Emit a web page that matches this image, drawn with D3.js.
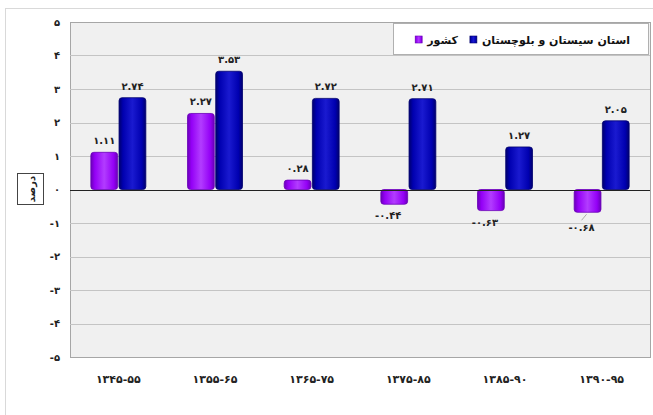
<!DOCTYPE html>
<html>
<head>
<meta charset="utf-8">
<script src="https://cdn.jsdelivr.net/npm/d3@7"></script>
<style>
  html, body { margin: 0; padding: 0; background: #fff; }
  svg { display: block; font-family: "DejaVu Sans", sans-serif; }
</style>
</head>
<body>
<div id="chart"></div>
<script>
const categories = ["۱۳۴۵-۵۵", "۱۳۵۵-۶۵", "۱۳۶۵-۷۵", "۱۳۷۵-۸۵", "۱۳۸۵-۹۰", "۱۳۹۰-۹۵"];
const countryValues = [1.11, 2.27, 0.28, -0.44, -0.63, -0.68];
const provinceValues = [2.74, 3.53, 2.72, 2.71, 1.27, 2.05];
const seriesNames = ["کشور", "استان سیستان و بلوچستان"];
const yTicks = [-5, -4, -3, -2, -1, 0, 1, 2, 3, 4, 5];
const yTitle = "درصد";

const width = 653, height = 415;
const plot = {left: 70, right: 650, top: 22, bottom: 357};

const faDigits = "۰۱۲۳۴۵۶۷۸۹";
const toFa = (s) => String(s).replace(/[0-9]/g, (d) => faDigits[+d]);
const fmtValue = (v) => (v < 0 ? "-" : "") + toFa(Math.abs(v).toFixed(2));

const series = [
  {name: seriesNames[0], values: countryValues, light: "#b23cff", mid: "#9400f6", dark: "#6a00b8"},
  {name: seriesNames[1], values: provinceValues, light: "#1a1ad0", mid: "#0000b0", dark: "#00006e"}
];

const svg = d3.select("#chart").append("svg")
  .attr("width", width)
  .attr("height", height)
  .attr("direction", "ltr");

// horizontal shading on the bars
const defs = svg.append("defs");
series.forEach((s, i) => {
  const grad = defs.append("linearGradient")
    .attr("id", `grad${i}`)
    .attr("x1", "0").attr("x2", "1").attr("y1", "0").attr("y2", "0");
  grad.append("stop").attr("offset", "0%").attr("stop-color", s.dark);
  grad.append("stop").attr("offset", "15%").attr("stop-color", s.mid);
  grad.append("stop").attr("offset", "50%").attr("stop-color", s.light);
  grad.append("stop").attr("offset", "85%").attr("stop-color", s.mid);
  grad.append("stop").attr("offset", "100%").attr("stop-color", s.dark);
});

// outer frame
svg.append("rect")
  .attr("x", 5.5).attr("y", 8.5)
  .attr("width", width).attr("height", height)
  .attr("fill", "#fff")
  .attr("stroke", "#d9d9d9");

const x = d3.scaleBand().domain(categories).range([plot.left, plot.right]);
const groupW = 55;
const xSub = d3.scaleBand()
  .domain(d3.range(series.length))
  .range([x.bandwidth() / 2 - groupW / 2, x.bandwidth() / 2 + groupW / 2])
  .paddingInner(0.05);
const y = d3.scaleLinear().domain([-5, 5]).range([plot.bottom, plot.top]);

// plot area
svg.append("rect")
  .attr("x", plot.left + 0.5).attr("y", plot.top + 0.5)
  .attr("width", plot.right - plot.left).attr("height", plot.bottom - plot.top)
  .attr("fill", "#f0f0f0")
  .attr("stroke", "#a6a6a6");

svg.append("g")
  .selectAll("line")
  .data(yTicks.filter((t) => t !== 0 && Math.abs(t) !== 5))
  .join("line")
  .attr("x1", plot.left).attr("x2", plot.right)
  .attr("y1", (d) => Math.round(y(d)) + 0.5).attr("y2", (d) => Math.round(y(d)) + 0.5)
  .attr("stroke", "#c4c4c4");

// y axis labels
const yAxis = svg.append("g")
  .attr("transform", `translate(${plot.left - 10},0)`)
  .call(d3.axisLeft(y).tickValues(yTicks).tickSize(0).tickPadding(0)
    .tickFormat((d) => (d < 0 ? "-" + toFa(-d) : toFa(d))));
yAxis.select(".domain").remove();
yAxis.selectAll("text")
  .attr("font-family", "DejaVu Sans")
  .attr("font-weight", "bold")
  .attr("font-size", 10)
  .attr("fill", "#222");

// y title box
svg.append("rect")
  .attr("x", 17.5).attr("y", 173.5)
  .attr("width", 26).attr("height", 31)
  .attr("fill", "#fff")
  .attr("stroke", "#444");
svg.append("text")
  .attr("transform", "translate(31,189) rotate(-90)")
  .attr("text-anchor", "middle")
  .attr("dominant-baseline", "central")
  .attr("direction", "rtl")
  .attr("font-size", 10)
  .attr("font-weight", "bold")
  .attr("fill", "#222")
  .text(yTitle);

// bars
const barData = categories.flatMap((c, ci) =>
  series.map((s, si) => ({cat: c, ci, si, value: s.values[ci]}))
);

svg.append("g")
  .selectAll("rect")
  .data(barData)
  .join("rect")
  .attr("x", (d) => x(d.cat) + xSub(d.si))
  .attr("y", (d) => y(Math.max(0, d.value)))
  .attr("width", xSub.bandwidth())
  .attr("height", (d) => Math.abs(y(d.value) - y(0)))
  .attr("rx", 3)
  .attr("fill", (d) => `url(#grad${d.si})`)
  .attr("stroke", (d) => series[d.si].dark)
  .attr("stroke-width", 0.8);

// zero line
svg.append("line")
  .attr("x1", plot.left).attr("x2", plot.right)
  .attr("y1", Math.round(y(0)) + 0.5).attr("y2", Math.round(y(0)) + 0.5)
  .attr("stroke", "#222")
  .attr("stroke-width", 1.2);

// value labels
const lastCat = categories[categories.length - 1];
svg.append("g")
  .attr("font-size", 10)
  .attr("font-weight", "bold")
  .attr("fill", "#222")
  .selectAll("text")
  .data(barData)
  .join("text")
  .attr("x", (d) => x(d.cat) + xSub(d.si) + xSub.bandwidth() / 2 + (d.value < 0 ? -6 : 0))
  .attr("y", (d) => d.value >= 0 ? y(d.value) - 8 : y(d.value) + (d.cat === lastCat ? 19 : 15))
  .attr("text-anchor", "middle")
  .text((d) => fmtValue(d.value));

// leader line for the last negative label
barData.filter((d) => d.cat === lastCat && d.value < 0).forEach((d) => {
  const cx = x(d.cat) + xSub(d.si) + xSub.bandwidth() / 2;
  svg.append("line")
    .attr("x1", cx - 1).attr("y1", y(d.value) + 2)
    .attr("x2", cx - 6).attr("y2", y(d.value) + 8)
    .attr("stroke", "#999")
    .attr("stroke-width", 0.8);
});

// x axis labels
svg.append("g")
  .selectAll("text")
  .data(categories)
  .join("text")
  .attr("x", (d) => x(d) + x.bandwidth() / 2)
  .attr("y", 379)
  .attr("text-anchor", "middle")
  .attr("dominant-baseline", "central")
  .attr("font-size", 11)
  .attr("font-weight", "bold")
  .attr("fill", "#222")
  .text((d) => d);

// legend
const legend = svg.append("g");
legend.append("rect")
  .attr("x", 393.5).attr("y", 23.5)
  .attr("width", 255).attr("height", 31)
  .attr("fill", "#fff")
  .attr("stroke", "#b0b0b0");

const legendItems = [
  {s: series[1], i: 1, right: 630},
  {s: series[0], i: 0, right: 458}
];
legendItems.forEach(({s, i, right}) => {
  const t = legend.append("text")
    .attr("x", right)
    .attr("y", 40)
    .attr("text-anchor", "end")
    .attr("dominant-baseline", "central")
    .attr("font-size", 11)
    .attr("font-weight", "bold")
    .attr("fill", "#111")
    .text(s.name);
  const w = t.node().getComputedTextLength();
  legend.append("rect")
    .attr("x", right - w - 12).attr("y", 36)
    .attr("width", 7).attr("height", 7)
    .attr("fill", `url(#grad${i})`)
    .attr("stroke", s.dark)
    .attr("stroke-width", 0.6);
});
</script>
</body>
</html>
